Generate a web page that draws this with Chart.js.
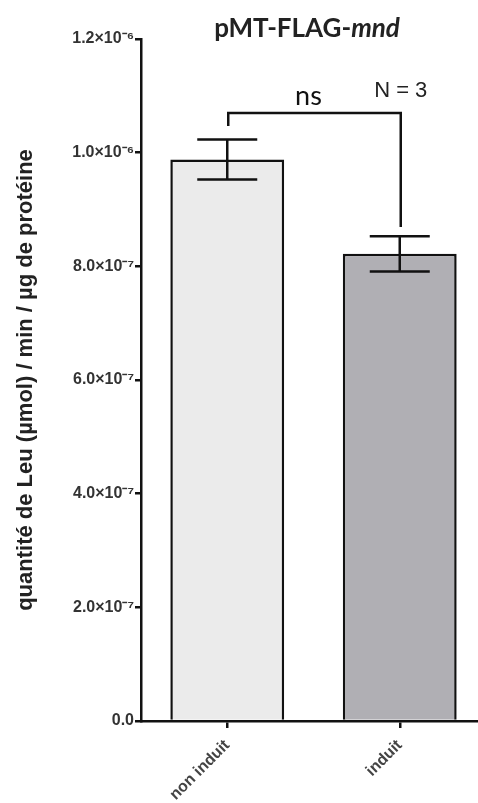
<!DOCTYPE html>
<html>
<head>
<meta charset="utf-8">
<script src="https://cdn.jsdelivr.net/npm/chart.js@4.4.1/dist/chart.umd.min.js"></script>
<style>
  html, body { margin: 0; padding: 0; background: #fff; overflow: hidden; }
  #wrap { width: 486px; height: 803px; }
</style>
</head>
<body>
<div id="wrap"><canvas id="myChartLeu"></canvas></div>
<script>
//? Données du graphique.

const categories = ["non induit", "induit"];
const moyennes = [9.88e-7, 8.22e-7];
const erreurs = [0.35e-7, 0.31e-7];
const couleursBarres = ["#ebebeb", "#b0afb4"];

const titrePartie1 = "pMT-FLAG-";
const titrePartie2 = "mnd";
const titreAxeY = "quantité de Leu (µmol) / min / µg de protéine";
const texteSignif = "ns";
const texteN = "N = 3";

// crochet de significativité : [pied gauche, haut, pied droit]
const crochetValeurs = [1.047e-6, 1.07e-6, 0.869e-6];

const tickLabels = {
  0: "0.0",
  2e-7: "2.0×10⁻⁷",
  4e-7: "4.0×10⁻⁷",
  6e-7: "6.0×10⁻⁷",
  8e-7: "8.0×10⁻⁷",
  1e-6: "1.0×10⁻⁶",
  1.2e-6: "1.2×10⁻⁶",
};

//? -------------------------------------------------

//? Plugin : barres d'erreur, crochet et textes.

const pluginAnnotations = {
  id: "annotations",
  afterDatasetsDraw(chart) {
    const ctx = chart.ctx;
    const x = chart.scales.x;
    const y = chart.scales.y;

    ctx.save();
    ctx.strokeStyle = "#111";
    ctx.lineWidth = 2.5;
    ctx.lineCap = "butt";

    // barres d'erreur
    moyennes.forEach((m, i) => {
      const cx = x.getPixelForValue(i);
      const yHaut = y.getPixelForValue(m + erreurs[i]);
      const yBas = y.getPixelForValue(m - erreurs[i]);
      ctx.beginPath();
      ctx.moveTo(cx, yHaut);
      ctx.lineTo(cx, yBas);
      ctx.moveTo(cx - 30, yHaut);
      ctx.lineTo(cx + 30, yHaut);
      ctx.moveTo(cx - 30, yBas);
      ctx.lineTo(cx + 30, yBas);
      ctx.stroke();
    });

    // crochet
    const x1 = x.getPixelForValue(0) + 1;
    const x2 = x.getPixelForValue(1) + 1;
    ctx.beginPath();
    ctx.moveTo(x1, y.getPixelForValue(crochetValeurs[0]));
    ctx.lineTo(x1, y.getPixelForValue(crochetValeurs[1]));
    ctx.lineTo(x2, y.getPixelForValue(crochetValeurs[1]));
    ctx.lineTo(x2, y.getPixelForValue(crochetValeurs[2]));
    ctx.stroke();

    // ns
    ctx.fillStyle = "#111";
    ctx.textAlign = "center";
    ctx.textBaseline = "alphabetic";
    ctx.font = "27px Lato, 'Open Sans', sans-serif";
    ctx.fillText(texteSignif, (x1 + x2) / 2 - 6, y.getPixelForValue(crochetValeurs[1]) - 8);

    // N = 3
    ctx.font = "22px 'Liberation Sans', Arial, sans-serif";
    ctx.fillStyle = "#222";
    ctx.fillText(texteN, x2, 97);

    // titre
    ctx.fillStyle = "#222";
    ctx.textAlign = "left";
    const f1 = "bold 26px Lato, 'Open Sans', sans-serif";
    const f2 = "italic bold 26px Lato, 'Open Sans', sans-serif";
    ctx.font = f1;
    const w1 = ctx.measureText(titrePartie1).width;
    ctx.font = f2;
    const w2 = ctx.measureText(titrePartie2).width;
    const debut = 307 - (w1 + w2) / 2;
    ctx.font = f1;
    ctx.fillText(titrePartie1, debut, 37);
    ctx.font = f2;
    ctx.fillText(titrePartie2, debut + w1, 37);

    ctx.restore();
  },
};

//? -------------------------------------------------

//? Construction du graphique.

const ctxLeu = document.getElementById("myChartLeu").getContext("2d");

const data = {
  labels: categories,
  datasets: [
    {
      label: "Leu",
      data: moyennes,
      backgroundColor: couleursBarres,
      borderColor: "#111",
      borderWidth: 2.5,
      borderSkipped: "bottom",
      barPercentage: 0.66,
      categoryPercentage: 1,
    },
  ],
};

const optionsLeu = {
  responsive: true,
  maintainAspectRatio: false,
  animation: { duration: 0 },
  layout: { padding: { top: 39, right: 0, bottom: 0, left: 0 } },
  plugins: {
    legend: { display: false },
    tooltip: { enabled: false },
  },
  scales: {
    x: {
      grid: {
        display: true,
        offset: false,
        drawOnChartArea: false,
        drawTicks: true,
        tickLength: 7,
        color: "#111",
        lineWidth: 2.5,
      },
      border: { display: true, color: "#111", width: 2.5 },
      ticks: {
        minRotation: 45,
        maxRotation: 45,
        padding: 8,
        color: "#444",
        font: { family: "'Liberation Sans', Arial, sans-serif", size: 16, weight: "bold" },
      },
      afterFit(scale) {
        scale.height = 82;
      },
    },
    y: {
      min: 0,
      max: 1.2e-6,
      grid: {
        display: true,
        drawOnChartArea: false,
        drawTicks: true,
        tickLength: 6,
        color: "#111",
        lineWidth: 2.5,
      },
      border: { display: true, color: "#111", width: 2.5 },
      ticks: {
        stepSize: 2e-7,
        padding: 1,
        color: "#333",
        font: { family: "'Liberation Sans', Arial, sans-serif", size: 16, weight: "bold" },
        callback: (v) => {
          const cle = Object.keys(tickLabels).find((k) => Math.abs(Number(k) - v) < 1e-9);
          return cle !== undefined ? tickLabels[cle] : "";
        },
      },
      title: {
        display: true,
        text: titreAxeY,
        color: "#222",
        font: { family: "'Liberation Sans', Arial, sans-serif", size: 22, weight: "bold" },
        padding: { top: 13, bottom: 0 },
      },
      afterFit(scale) {
        scale.width = 141;
      },
    },
  },
};

new Chart(ctxLeu, {
  type: "bar",
  data,
  options: optionsLeu,
  plugins: [pluginAnnotations],
});
</script>
</body>
</html>
